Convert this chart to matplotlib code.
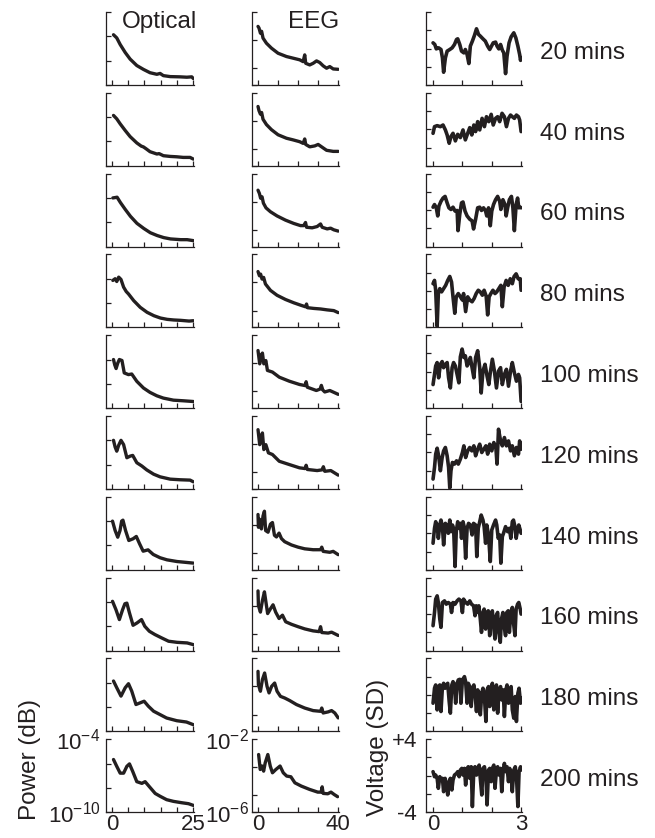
import matplotlib
matplotlib.use("Agg")
import matplotlib.pyplot as plt

plt.rcParams['font.family'] = ['Liberation Sans', 'DejaVu Sans']
plt.rcParams['mathtext.fontset'] = 'custom'
plt.rcParams['mathtext.rm'] = 'Liberation Sans'
plt.rcParams['mathtext.it'] = 'Liberation Sans:italic'
plt.rcParams['mathtext.default'] = 'regular'

INK = '#231f20'
FS = 17.5      # panel / axis labels
TFS = 16       # tick labels

minutes = [20, 40, 60, 80, 100, 120, 140, 160, 180, 200]

# optical power spectra: (frequency Hz, log10 power)
opt_20 = [(0.5, -5.87), (1.5, -6.13), (2.55, -6.67), (4.1, -7.33), (5.6, -7.87), (7.65, -8.4), (9.7, -8.72),
          (11.7, -8.99), (13.8, -9.12), (14.8, -9.05), (15.8, -9.23), (17.9, -9.31), (20.9, -9.33),
          (23.0, -9.36), (24.5, -9.33), (25.0, -9.47)]
opt_40 = [(0.5, -5.86), (1.5, -6.14), (2.55, -6.55), (4.1, -7.1), (5.6, -7.6), (7.65, -8.12), (9.0, -8.38),
          (9.7, -8.45), (10.5, -8.6), (11.7, -8.84), (13.8, -9.03), (14.5, -9.0), (15.8, -9.17),
          (17.9, -9.23), (19.9, -9.26), (21.9, -9.31), (24.0, -9.31), (25.0, -9.45)]
opt_60 = [(0.3, -6.0), (1.0, -5.97), (1.6, -5.94), (2.6, -6.37), (4.1, -6.94), (5.7, -7.51), (7.7, -8.09),
          (9.8, -8.51), (11.8, -8.86), (13.9, -9.09), (15.9, -9.26), (18.0, -9.37), (21.1, -9.43),
          (23.1, -9.43), (25.0, -9.51)]
opt_80 = [(0.3, -6.14), (1.0, -6.0), (1.5, -6.23), (2.1, -5.87), (2.8, -6.06), (3.6, -6.69), (4.4, -7.05),
          (5.1, -7.25), (6.7, -7.8), (8.7, -8.35), (10.8, -8.76), (12.9, -9.04), (14.9, -9.23),
          (17.0, -9.34), (19.0, -9.39), (21.1, -9.42), (23.7, -9.48), (25.0, -9.45)]
opt_100 = [(0.5, -6.0), (0.9, -6.45), (1.3, -6.74), (1.8, -6.3), (2.3, -6.0), (3.1, -6.08), (3.8, -7.1),
           (5.1, -7.24), (6.1, -7.19), (7.65, -7.79), (9.7, -8.34), (11.7, -8.7), (13.8, -8.98),
           (15.8, -9.17), (18.9, -9.34), (21.9, -9.39), (25.0, -9.45)]
opt_120 = [(0.5, -6.0), (1.0, -6.55), (1.5, -6.89), (2.1, -6.4), (2.8, -6.0), (3.6, -6.35), (4.6, -7.43),
           (5.6, -7.3), (6.4, -7.24), (7.65, -7.84), (9.2, -8.11), (10.7, -8.43), (12.8, -8.78),
           (14.8, -9.0), (17.9, -9.19), (20.9, -9.24), (24.0, -9.27), (25.0, -9.41)]
opt_140 = [(0.2, -6.0), (1.0, -6.77), (1.8, -7.32), (2.5, -6.77), (3.0, -6.0), (3.4, -5.92), (4.2, -6.77),
           (5.2, -7.59), (6.5, -7.45), (7.5, -7.26), (8.5, -7.86), (9.6, -8.47), (11.1, -8.36),
           (12.7, -8.74), (14.8, -9.01), (16.9, -9.18), (20.0, -9.32), (23.1, -9.4), (25.0, -9.45)]
opt_160 = [(0.2, -5.95), (1.25, -6.63), (2.3, -7.45), (3.3, -6.63), (4.0, -6.15), (4.6, -6.1), (5.4, -6.9),
           (6.5, -7.92), (7.7, -7.73), (9.1, -7.45), (10.1, -8.0), (11.5, -8.41), (13.2, -8.68),
           (15.3, -8.96), (17.4, -9.23), (20.0, -9.32), (23.1, -9.37), (25.0, -9.51)]
opt_180 = [(0.5, -5.86), (1.5, -6.41), (2.8, -7.1), (4.1, -6.41), (5.1, -6.08), (6.1, -6.69), (7.4, -7.79),
           (8.7, -7.65), (9.9, -7.52), (11.2, -7.93), (12.8, -8.34), (14.8, -8.62), (16.8, -8.9),
           (19.9, -9.12), (22.9, -9.23), (25.0, -9.45)]
opt_200 = [(0.5, -5.67), (1.5, -6.23), (2.55, -6.79), (3.6, -6.79), (4.6, -6.23), (5.4, -6.03), (6.4, -6.65),
           (7.65, -7.49), (9.2, -7.63), (10.2, -7.49), (11.5, -7.9), (13.3, -8.46), (14.8, -8.69),
           (16.8, -8.97), (18.9, -9.11), (21.4, -9.22), (23.5, -9.3), (25.0, -9.44)]
optical = [opt_20, opt_40, opt_60, opt_80, opt_100, opt_120, opt_140, opt_160, opt_180, opt_200]

# EEG power spectra: (frequency Hz, log10 power)
eeg_20 = [(0, -2.79), (0.5, -2.88), (1.2, -3.16), (1.8, -3.06), (2.5, -3.43), (4.2, -3.71), (6.7, -3.98),
          (10, -4.26), (14.2, -4.44), (17.5, -4.53), (20.8, -4.62), (22.5, -4.72), (23.3, -4.35),
          (23.8, -4.81), (25.8, -4.9), (27.5, -4.81), (29.2, -4.68), (30.8, -4.77), (32.5, -4.95),
          (34.2, -5.08), (35.8, -4.99), (37.5, -5.12), (40, -5.14)]
eeg_40 = [(0, -2.75), (0.5, -2.98), (1.2, -3.17), (1.8, -3.08), (2.5, -3.45), (4.2, -3.74), (6.7, -4.02),
          (10, -4.3), (14.2, -4.49), (17.5, -4.58), (20.8, -4.68), (22.5, -4.77), (23.3, -4.53),
          (23.8, -4.83), (25.8, -4.96), (28.3, -4.91), (30, -4.83), (31.7, -4.96), (34.2, -5.15),
          (37.5, -5.21), (40, -5.21)]
eeg_60 = [(0, -2.91), (0.7, -3.09), (1.3, -3.35), (2, -3.27), (2.7, -3.62), (4, -3.88), (6.2, -4.09),
          (9.5, -4.32), (13.7, -4.55), (17.8, -4.73), (21.2, -4.85), (22.8, -4.85), (23.7, -4.68),
          (24.2, -4.94), (27, -4.97), (29.5, -4.9), (31.2, -4.76), (32, -4.94), (34.5, -5.03),
          (36.2, -4.99), (37.8, -5.08), (40, -5.15)]
eeg_80 = [(0, -2.94), (0.7, -3.17), (1.3, -3.08), (2, -3.35), (2.8, -3.26), (3.7, -3.62), (6.2, -3.97),
          (9.5, -4.24), (13.7, -4.47), (17.8, -4.65), (21.2, -4.78), (23.7, -4.87), (24.2, -4.72),
          (24.7, -4.92), (27.8, -4.96), (31.2, -4.99), (34.5, -5.04), (37.8, -5.08), (40, -5.19)]
eeg_100 = [(0, -2.84), (0.84, -3.57), (1.5, -3.11), (2.2, -2.98), (2.9, -3.57), (3.9, -3.39), (4.7, -3.93),
           (7.2, -4.02), (10.6, -4.3), (15.6, -4.52), (20.7, -4.7), (23.5, -4.76), (24, -4.55),
           (24.6, -4.85), (29.1, -5.03), (31.0, -4.95), (31.6, -4.75), (32.3, -5.0), (33.3, -5.11),
           (35.8, -5.03), (40, -5.24)]
eeg_120 = [(0, -2.75), (0.84, -3.57), (1.5, -3.16), (2.2, -2.93), (2.9, -3.84), (3.9, -3.57), (5.2, -4.02),
           (7.2, -4.11), (10.6, -4.48), (15.6, -4.66), (20.7, -4.84), (23.5, -4.88), (24, -4.7),
           (24.6, -4.93), (29.5, -4.99), (32, -4.95), (32.6, -4.78), (33.3, -5.03), (36.3, -4.99),
           (40, -5.24)]
eeg_140 = [(0, -2.97), (0.2, -3.67), (0.8, -3.23), (1.7, -3.76), (2.5, -3.05), (3.2, -2.79), (3.8, -3.85),
           (5, -3.94), (6.2, -3.5), (7.2, -3.41), (8.2, -4.11), (9.2, -4.2), (10.5, -3.99), (11.7, -4.29),
           (13.3, -4.46), (16.7, -4.64), (20, -4.76), (23.3, -4.85), (27.5, -4.9), (31.2, -4.9),
           (31.8, -4.76), (32.5, -4.99), (35.8, -5.04), (37.5, -4.99), (40, -5.17)]
eeg_160 = [(0, -2.73), (0.2, -3.53), (1.2, -3.89), (2.2, -3.26), (3.2, -2.78), (4.2, -3.53), (4.8, -3.97),
           (6.2, -3.71), (7.5, -3.49), (8.8, -3.89), (10.5, -4.24), (12.2, -4.06), (13.8, -4.42),
           (16.7, -4.56), (20, -4.69), (23.3, -4.81), (27.5, -4.92), (30.5, -4.96), (31.2, -4.69),
           (31.8, -5.01), (35, -5.04), (36.7, -4.99), (40, -5.17)]
eeg_180 = [(0, -2.71), (0.2, -3.44), (1.2, -3.8), (2.2, -3.16), (3.3, -2.8), (4.5, -3.53), (5.5, -3.89),
           (6.8, -3.53), (8.3, -3.35), (9.5, -3.8), (11.2, -4.08), (13.3, -4.17), (15.8, -4.31),
           (19.2, -4.53), (23.3, -4.72), (27.5, -4.86), (31.2, -4.9), (31.8, -4.72), (32.5, -4.99),
           (35, -4.93), (36.7, -4.86), (38.3, -4.99), (40, -5.26)]
eeg_200 = [(0.3, -2.84), (1.1, -3.66), (2, -3.47), (2.8, -3.75), (3.6, -3.29), (4.9, -2.84), (6.1, -3.47),
           (7.2, -3.84), (8.9, -3.66), (11, -3.47), (12.6, -3.84), (14.3, -4.02), (16.4, -4.06),
           (18.4, -4.39), (21.6, -4.57), (25.7, -4.75), (29.8, -4.9), (31.5, -4.9), (32, -4.61),
           (32.5, -4.97), (34.8, -4.99), (36.4, -4.9), (38, -5.03), (39.7, -5.15)]
eeg = [eeg_20, eeg_40, eeg_60, eeg_80, eeg_100, eeg_120, eeg_140, eeg_160, eeg_180, eeg_200]

# EEG voltage traces: (time s, voltage SD)
v_20 = [(0, 0.62), (0.06, 0.44), (0.11, -0.04), (0.19, 0.07), (0.27, -0.11), (0.32, -1.03), (0.36, -2.6),
        (0.42, -1.03), (0.48, -0.29), (0.57, -0.11), (0.65, 0.07), (0.73, 0.44), (0.8, 0.99), (0.84, 1.06),
        (0.91, 0.44), (0.97, -0.29), (1.05, -0.48), (1.1, -0.11), (1.16, -0.66), (1.22, -1.65), (1.27, 0.26),
        (1.34, 0.81), (1.41, 1.43), (1.48, 2.16), (1.55, 1.54), (1.61, 1.36), (1.7, 1.06), (1.78, 0.81),
        (1.86, 0.26), (1.93, -0.11), (1.99, 0.26), (2.05, 0.62), (2.13, 0.7), (2.18, 0.26), (2.24, -0.04),
        (2.3, 0.44), (2.36, -0.18), (2.41, -0.48), (2.47, -2.75), (2.52, -0.84), (2.59, 0.62), (2.66, 1.28),
        (2.75, 1.72), (2.82, 1.17), (2.89, 0.26), (2.95, -0.66), (2.98, -1.3), (3.0, -1.0)]
v_40 = [(0, -0.44), (0.05, 0.29), (0.14, 0.4), (0.25, 0.29), (0.34, 0.47), (0.42, -0.07), (0.48, -0.62),
        (0.55, -1.53), (0.61, -0.8), (0.68, -0.44), (0.76, -1.27), (0.84, -0.55), (0.93, -0.91), (1.02, -0.07),
        (1.1, -1.16), (1.18, -0.44), (1.25, 0.18), (1.32, -0.62), (1.39, 0.47), (1.45, -0.25), (1.52, 0.84),
        (1.59, -0.07), (1.67, 1.2), (1.75, 0.29), (1.82, 1.38), (1.9, 0.84), (1.98, 1.64), (2.05, 0.47),
        (2.13, 1.2), (2.2, 1.38), (2.27, 0.84), (2.35, 1.75), (2.43, 1.38), (2.5, 0.29), (2.57, 1.2),
        (2.64, 1.56), (2.7, 1.38), (2.77, 1.2), (2.84, 1.56), (2.91, 1.38), (2.95, 1.02), (3.0, -0.25)]
v_60 = [(0, 0.32), (0.05, 0.61), (0.11, 0.25), (0.16, -0.64), (0.2, 0.43), (0.27, 0.96), (0.34, 1.32),
        (0.41, 1.5), (0.48, 0.79), (0.54, 0.25), (0.61, 0.07), (0.68, 0.32), (0.75, -0.11), (0.82, -0.04),
        (0.85, -2.25), (0.91, -0.46), (0.97, 0.79), (1.02, 0.89), (1.09, -0.11), (1.16, -0.64), (1.25, -1.0),
        (1.33, -1.18), (1.38, -2.07), (1.45, -1.0), (1.52, 0.25), (1.59, 0.32), (1.65, -0.04), (1.72, 0.25),
        (1.79, -0.11), (1.83, -0.64), (1.89, 0.25), (1.95, -1.71), (2.0, -0.11), (2.06, 0.61), (2.13, 1.14),
        (2.2, 1.5), (2.27, 0.96), (2.31, 0.07), (2.38, 1.14), (2.45, 0.61), (2.49, -0.64), (2.54, 0.25),
        (2.6, 1.14), (2.67, 1.5), (2.72, 0.25), (2.77, -2.25), (2.83, 0.61), (2.88, 1.32), (2.92, 0.25),
        (2.97, 0.32), (3.0, 0.25)]
v_80 = [(0, 0.79), (0.05, 1.15), (0.09, 0.07), (0.14, -3.88), (0.18, -0.29), (0.23, 0.25), (0.29, -0.11),
        (0.36, 0.25), (0.43, 0.61), (0.5, 1.15), (0.57, 1.58), (0.63, 0.97), (0.68, -0.65), (0.74, -2.45),
        (0.79, -0.65), (0.86, -0.29), (0.93, -0.65), (1.0, -1.0), (1.04, -0.29), (1.11, -2.27), (1.18, -0.65),
        (1.25, -1.0), (1.33, -1.19), (1.4, -0.83), (1.47, -0.29), (1.54, 0.07), (1.61, -0.11), (1.68, -0.47),
        (1.74, 0.07), (1.81, -0.58), (1.86, -2.63), (1.91, -0.65), (1.97, -0.29), (2.04, 0.07), (2.11, -0.29),
        (2.17, -0.11), (2.24, 0.25), (2.31, 0.61), (2.36, -1.73), (2.42, 0.43), (2.49, 1.15), (2.56, 0.61),
        (2.63, 1.33), (2.7, 0.79), (2.76, 1.58), (2.83, 1.87), (2.9, 1.33), (2.97, 1.33), (3.0, 0.07)]
v_100 = [(0, -1.41), (0.05, -0.3), (0.09, 0.63), (0.14, 1.0), (0.19, -0.67), (0.25, 0.81), (0.31, 1.11),
         (0.36, 0.44), (0.42, 0.81), (0.48, 1.0), (0.53, -0.67), (0.59, -1.78), (0.65, 0.44), (0.7, 1.0),
         (0.76, 0.63), (0.82, -0.3), (0.88, -1.22), (0.93, 1.63), (0.99, 2.48), (1.05, 1.56), (1.1, 1.74),
         (1.16, 0.63), (1.22, 1.0), (1.27, 1.56), (1.33, 0.44), (1.39, -0.67), (1.45, 1.56), (1.52, 2.3),
         (1.59, 0.44), (1.64, -2.33), (1.7, 0.07), (1.77, 0.81), (1.84, -0.48), (1.9, -1.41), (1.95, -0.11),
         (2.02, 1.37), (2.09, 0.07), (2.16, -1.78), (2.23, 0.07), (2.3, 0.44), (2.36, -1.41), (2.43, -0.3),
         (2.5, 0.26), (2.57, -1.59), (2.64, 0.07), (2.7, 1.0), (2.77, -0.11), (2.84, -1.04), (2.91, -0.3),
         (2.95, -0.67), (3.0, -3.26)]
v_120 = [(0, -2.91), (0.05, -1.64), (0.09, -0.18), (0.14, 0.47), (0.19, -0.36), (0.25, -2.0), (0.31, -0.55),
         (0.36, 0.18), (0.42, 0.55), (0.48, -0.36), (0.53, -1.64), (0.57, -3.89), (0.61, -2.0), (0.66, -1.09),
         (0.73, -1.27), (0.8, -0.91), (0.86, -1.27), (0.93, -0.73), (1.0, 0.0), (1.05, 0.73), (1.11, -0.55),
         (1.18, 0.18), (1.25, 0.55), (1.32, 0.18), (1.39, 0.73), (1.45, -0.36), (1.52, 0.36), (1.59, 0.91),
         (1.66, 0.0), (1.73, 0.36), (1.8, 0.73), (1.86, -0.18), (1.93, 0.91), (2.0, 0.18), (2.07, 1.09),
         (2.14, 0.55), (2.18, -1.27), (2.23, 2.55), (2.3, 1.27), (2.36, 0.73), (2.43, 1.64), (2.5, 0.73),
         (2.57, 1.27), (2.64, 0.18), (2.7, 0.73), (2.77, -0.36), (2.84, 0.55), (2.91, -0.18), (2.95, 1.27),
         (3.0, 0.36)]
v_140 = [(0, -1.09), (0.05, 0.55), (0.09, 1.27), (0.14, 0.91), (0.18, -0.55), (0.23, 0.91), (0.27, 1.45),
         (0.32, 0.73), (0.36, -1.27), (0.42, 1.09), (0.48, 0.73), (0.52, 0.0), (0.57, 1.45), (0.61, 0.18),
         (0.66, 0.91), (0.7, 0.55), (0.75, -3.64), (0.79, 0.18), (0.84, 1.27), (0.88, 0.55), (0.93, 1.09),
         (0.97, -0.55), (1.02, 1.27), (1.06, 0.73), (1.11, -2.73), (1.16, 0.55), (1.21, 1.09), (1.27, 0.91),
         (1.33, -0.18), (1.38, 1.09), (1.45, 0.91), (1.49, -2.55), (1.54, 0.55), (1.59, 1.27), (1.64, 2.0),
         (1.7, 1.45), (1.74, 0.73), (1.79, -1.09), (1.83, 0.91), (1.89, -0.18), (1.95, -3.09), (2.0, 0.36),
         (2.06, 0.91), (2.13, 1.45), (2.17, 0.91), (2.22, -0.55), (2.27, -0.18), (2.31, -3.27), (2.36, -0.36),
         (2.4, 0.0), (2.47, 0.73), (2.54, 0.18), (2.6, 0.55), (2.65, -0.55), (2.7, 1.27), (2.74, 1.45),
         (2.79, 0.73), (2.83, -0.55), (2.88, 0.36), (2.92, 0.91), (2.97, 0.36), (3.0, 0.0)]
v_160 = [(0, -1.27), (0.05, 0.18), (0.09, 1.64), (0.14, 2.0), (0.18, 1.27), (0.23, -0.55), (0.27, -1.45),
         (0.32, 1.27), (0.39, 1.45), (0.45, 1.09), (0.52, 1.27), (0.59, 1.09), (0.63, 0.18), (0.68, 1.27),
         (0.75, 1.09), (0.82, 1.45), (0.88, 1.64), (0.95, 1.45), (1.0, 0.18), (1.04, 1.64), (1.11, 1.27),
         (1.18, 1.09), (1.25, 1.45), (1.31, 1.09), (1.38, 0.91), (1.43, -0.18), (1.47, 0.91), (1.52, 0.18),
         (1.56, 0.91), (1.61, -0.55), (1.65, -2.0), (1.7, 0.18), (1.74, 0.55), (1.79, -1.64), (1.83, 0.18),
         (1.88, 0.36), (1.93, -2.36), (1.97, 0.0), (2.02, 0.36), (2.06, -1.27), (2.11, -2.73), (2.15, -0.18),
         (2.2, 0.18), (2.24, -2.0), (2.29, -3.09), (2.33, -0.55), (2.38, 0.18), (2.42, -1.27), (2.47, -2.36),
         (2.51, 0.18), (2.56, 0.36), (2.6, -2.0), (2.65, 0.18), (2.7, 0.73), (2.74, -0.91), (2.79, -2.36),
         (2.83, 0.55), (2.88, 1.09), (2.92, 1.27), (2.97, 0.55), (3.0, 0.0)]
v_180 = [(0, -0.91), (0.05, 0.73), (0.09, 1.09), (0.14, -1.64), (0.18, 0.91), (0.23, 1.09), (0.27, -1.82),
         (0.32, 0.91), (0.36, 1.27), (0.41, 0.73), (0.45, 1.09), (0.5, 1.27), (0.55, -0.73), (0.59, -2.0),
         (0.64, 1.09), (0.68, 1.45), (0.73, 1.09), (0.77, -0.91), (0.82, 1.27), (0.86, 1.64), (0.91, 1.71),
         (0.95, -0.91), (1.0, 1.64), (1.07, 2.0), (1.11, 1.45), (1.16, -0.91), (1.2, 1.27), (1.25, 0.91),
         (1.3, -1.27), (1.34, 0.73), (1.39, 1.09), (1.43, 0.18), (1.48, -1.82), (1.52, 0.55), (1.57, 0.18),
         (1.61, -2.18), (1.66, 0.18), (1.7, 0.73), (1.75, -0.18), (1.8, -2.91), (1.84, 0.55), (1.89, 0.91),
         (1.93, -1.27), (1.98, 0.55), (2.02, 1.27), (2.07, -1.64), (2.11, 0.73), (2.16, 1.09), (2.2, -2.0),
         (2.25, 0.55), (2.3, 0.91), (2.34, -0.55), (2.39, 0.55), (2.43, -2.36), (2.48, 0.55), (2.52, 1.09),
         (2.57, -0.91), (2.61, 0.36), (2.66, 0.91), (2.7, -1.64), (2.75, -2.55), (2.8, -0.18), (2.84, -2.91),
         (2.89, 0.18), (2.93, 0.73), (2.98, -0.91), (3.0, -0.36)]
v_200 = [(0, 0.44), (0.05, -0.11), (0.09, 0.07), (0.14, -0.29), (0.18, -1.38), (0.23, -0.11), (0.27, -0.47),
         (0.32, -0.29), (0.36, -1.75), (0.41, -0.29), (0.45, -0.84), (0.5, -2.11), (0.55, -0.65), (0.59, -0.29),
         (0.64, -1.56), (0.68, -0.47), (0.73, 0.07), (0.8, 0.25), (0.84, 0.44), (0.89, -0.11), (0.93, 0.62),
         (0.98, 0.8), (1.02, 0.07), (1.07, 0.8), (1.11, -1.02), (1.16, 0.8), (1.2, 0.98), (1.25, -0.29),
         (1.3, 0.98), (1.34, -3.38), (1.39, 0.8), (1.43, 0.98), (1.48, 0.07), (1.52, 0.8), (1.57, 1.16),
         (1.61, -0.29), (1.66, -2.11), (1.7, 0.8), (1.75, 0.98), (1.8, -0.11), (1.84, -3.2), (1.89, 0.62),
         (1.93, 0.8), (1.98, -0.65), (2.02, 0.8), (2.07, 1.16), (2.11, -1.38), (2.16, 0.62), (2.2, 0.98),
         (2.25, 0.07), (2.3, 0.8), (2.34, -1.75), (2.39, 0.62), (2.43, 1.35), (2.48, 0.44), (2.52, 0.98),
         (2.57, -0.65), (2.61, 0.8), (2.66, 0.07), (2.7, -1.75), (2.75, 0.62), (2.8, 0.98), (2.84, 0.07),
         (2.89, -3.38), (2.93, 0.44), (2.98, 0.98), (3.0, 0.62)]
voltage = [v_20, v_40, v_60, v_80, v_100, v_120, v_140, v_160, v_180, v_200]

# axis set-up per column
opt_yticks = [-10, -8, -6, -4]
opt_ylabels = ['$10^{-10}$', '', '', '$10^{-4}$']
opt_xticks = [0, 5, 10, 15, 20, 25]
opt_xlabels = ['0', '', '', '', '', '25']
eeg_yticks = [-6, -5.08, -3.53, -2]
eeg_ylabels = ['$10^{-6}$', '', '', '$10^{-2}$']
eeg_xticks = [0, 10, 20, 30, 40]
eeg_xlabels = ['0', '', '', '', '40']
volt_yticks = [-4, -2, 0, 2, 4]
volt_ylabels = ['-4', '', '', '', '+4']
volt_xticks = [0, 1, 2, 3]
volt_xlabels = ['0', '', '', '3']

W, H = 655, 838
fig = plt.figure(figsize=(W / 100, H / 100), dpi=100)

cols = [
    dict(left=106, width=88, data=optical, xlim=(-1.8, 25.2), ylim=(-10, -4), lw=2.4,
         xt=opt_xticks, xl=opt_xlabels, yt=opt_yticks, yl=opt_ylabels, pad=4),
    dict(left=252, width=87, data=eeg, xlim=(-3.0, 40.4), ylim=(-6, -2), lw=2.4,
         xt=eeg_xticks, xl=eeg_xlabels, yt=eeg_yticks, yl=eeg_ylabels, pad=2),
    dict(left=426, width=96, data=voltage, xlim=(-0.24, 3.03), ylim=(-4, 4), lw=2.6,
         xt=volt_xticks, xl=volt_xlabels, yt=volt_yticks, yl=volt_ylabels, pad=6.5),
]

row_h = 73
for i, m in enumerate(minutes):
    top = 12 + 80.8 * i
    last = (i == len(minutes) - 1)
    for c, col in enumerate(cols):
        ax = fig.add_axes([col['left'] / W, 1 - (top + row_h) / H, col['width'] / W, row_h / H])
        pts = col['data'][i]
        xs = [p[0] for p in pts]
        ys = [p[1] for p in pts]
        ax.plot(xs, ys, color=INK, lw=col['lw'], solid_joinstyle='round', solid_capstyle='round')
        ax.set_xlim(*col['xlim'])
        ax.set_ylim(*col['ylim'])
        for s in ['top', 'right']:
            ax.spines[s].set_visible(False)
        for s in ['left', 'bottom']:
            ax.spines[s].set_linewidth(0.9)
            ax.spines[s].set_color(INK)
        ax.set_xticks(col['xt'])
        ax.set_yticks(col['yt'])
        ax.tick_params(direction='in', length=3.5, width=0.9, colors=INK, labelsize=TFS)
        ax.tick_params(axis='y', pad=col['pad'])
        ax.tick_params(axis='x', pad=1)
        if last:
            ax.set_xticklabels(col['xl'])
            ax.set_yticklabels(col['yl'])
        else:
            ax.set_xticklabels([])
            ax.set_yticklabels([])
        if c == 2:
            ax.text(1.19, 0.36, f'{m} mins', transform=ax.transAxes, fontsize=FS,
                    ha='left', va='baseline', color=INK)
        if i == 0 and c == 0:
            ax.text(1.03, 0.78, 'Optical', transform=ax.transAxes, fontsize=FS,
                    ha='right', va='baseline', color=INK)
        if i == 0 and c == 1:
            ax.text(1.0, 0.78, 'EEG', transform=ax.transAxes, fontsize=FS,
                    ha='right', va='baseline', color=INK)

fig.text(30 / W, 1 - 759 / H, 'Power (dB)', rotation=90, ha='center', va='center', fontsize=FS, color=INK)
fig.text(378 / W, 1 - 747 / H, 'Voltage (SD)', rotation=90, ha='center', va='center', fontsize=FS, color=INK)

fig.savefig('out.png', dpi=100)
